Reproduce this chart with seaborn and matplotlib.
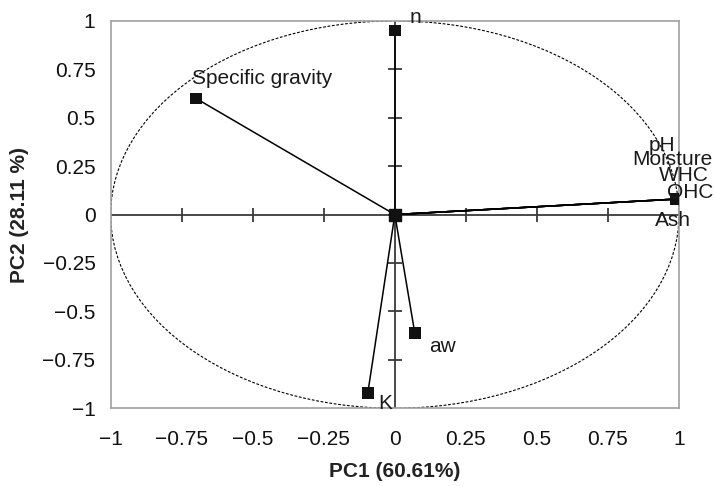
import matplotlib
matplotlib.use("Agg")
import matplotlib.pyplot as plt
from matplotlib.patches import Ellipse
import seaborn as sns
import pandas as pd

# ---- data ----
variables = ["n", "Specific gravity", "aw", "K", "pH", "Moisture", "WHC", "OHC", "Ash"]
pc1 = [0.00, -0.70, 0.07, -0.095, 0.99, 0.99, 0.99, 0.99, 0.99]
pc2 = [0.95, 0.60, -0.61, -0.92, 0.08, 0.08, 0.08, 0.08, 0.08]
tick_vals = [-1, -0.75, -0.5, -0.25, 0, 0.25, 0.5, 0.75, 1]
tick_labels = ["\u22121", "\u22120.75", "\u22120.5", "\u22120.25", "0", "0.25", "0.5", "0.75", "1"]
xlabel = "PC1 (60.61%)"
ylabel = "PC2 (28.11 %)"

# label offsets in pixels (style only)
label_offsets = {
    "n": (15, 13, "left", "center"),
    "Specific gravity": (-4, 10, "left", "bottom"),
    "aw": (14, -14, "left", "center"),
    "K": (10, -11, "left", "center"),
    "pH": (-27, 54, "left", "center"),
    "Moisture": (-44, 40, "left", "center"),
    "WHC": (-17, 24, "left", "center"),
    "OHC": (-9, 7, "left", "center"),
    "Ash": (-21, -21, "left", "center"),
}

df = pd.DataFrame({"var": variables, "pc1": pc1, "pc2": pc2})

sns.set_theme(style="white")
plt.rcParams["font.family"] = ["Liberation Sans", "DejaVu Sans"]

fig = plt.figure(figsize=(7.14, 4.86), dpi=100)
ax = fig.add_axes([0.155, 0.160, 0.796, 0.797])

# correlation circle
ax.add_patch(Ellipse((0, 0), 2, 2, fill=False, ec="black", lw=0.8,
                     ls=(0, (2.5, 1.5)), zorder=1))

# internal axes with ticks
inner = tick_vals[1:-1]
ax.plot([-1, 1], [0, 0], color="#3a3a3a", lw=1.3, zorder=2)
ax.plot([0, 0], [-1, 1], color="#3a3a3a", lw=1.3, zorder=2)
ax.plot(inner, [0] * len(inner), ls="none", marker="|",
        markersize=9.5, mew=1.3, color="#3a3a3a", zorder=2)
ax.plot([0] * len(inner), inner, ls="none", marker="_",
        markersize=9.5, mew=1.3, color="#3a3a3a", zorder=2)

# vectors from origin
for x, y in zip(pc1, pc2):
    ax.plot([0, x], [0, y], color="black", lw=1.1, zorder=3)

# markers
sns.scatterplot(data=df, x="pc1", y="pc2", marker="s", s=70, color="#111111",
                edgecolor="none", ax=ax, zorder=4, legend=False)
ax.scatter([0], [0], marker="s", s=70, color="#111111", zorder=4)

for v, x, y in zip(variables, pc1, pc2):
    dx, dy, ha, va = label_offsets[v]
    ax.annotate(v, (x, y), xytext=(dx * 0.72, dy * 0.72), textcoords="offset points",
                ha=ha, va=va, fontsize=15, color="#1a1a1a", zorder=5)

ax.set_xlim(-1, 1)
ax.set_ylim(-1, 1)
ax.set_xticks(tick_vals)
ax.set_xticklabels(tick_labels)
ax.set_yticks(tick_vals)
ax.set_yticklabels(tick_labels)
ax.tick_params(axis="both", length=0, labelsize=15, colors="#111111")
ax.tick_params(axis="x", pad=16)
ax.tick_params(axis="y", pad=11)
ax.set_xlabel(xlabel, fontsize=15, fontweight="bold", color="#222222", labelpad=9)
ax.set_ylabel(ylabel, fontsize=15, fontweight="bold", color="#222222", labelpad=10)
for s in ax.spines.values():
    s.set_color("#a0a0a0")
    s.set_linewidth(1.2)
    s.set_visible(True)

fig.savefig("out.png", dpi=100)
